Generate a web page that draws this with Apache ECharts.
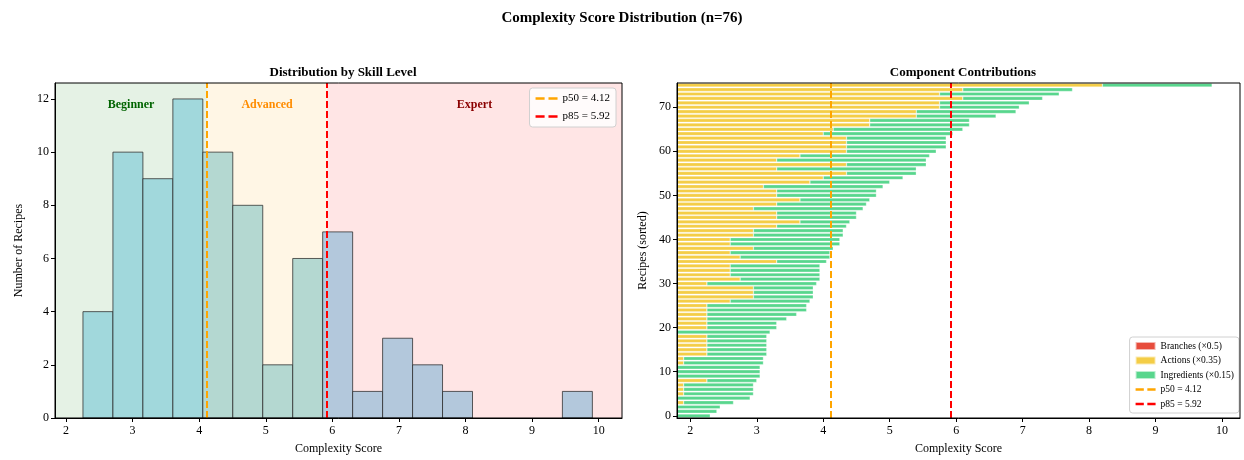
<!DOCTYPE html>
<html><head><meta charset="utf-8">
<script src="https://cdn.jsdelivr.net/npm/echarts@6/dist/echarts.min.js"></script>
<style>html,body{margin:0;padding:0;background:#fff}#c{width:1244px;height:460px}</style>
</head><body><div id="c"></div>
<script>
// ---------- data ----------
const suptitle = 'Complexity Score Distribution (n=76)';
const histTitle = 'Distribution by Skill Level';
const compTitle = 'Component Contributions';
const p50 = 4.12;
const p85 = 5.92;
const zoneNames = ['Beginner', 'Advanced', 'Expert'];
// histogram of complexity scores
const binStart = 2.255;
const binWidth = 0.45;
const histCounts = [4, 10, 9, 12, 10, 8, 2, 6, 7, 1, 3, 2, 1, 0, 0, 0, 1];
// component contributions per recipe (sorted by score, bottom to top)
const branchVals = [0.5,0.5,0.5,0.5,0.5,0.5,0.5,0.5,0.5,0.5,
  0.5,0.5,0.5,0.5,0.5,0.5,0.5,0.5,0.5,0.5,
  0.5,0.5,0.5,0.5,0.5,0.5,0.5,0.5,0.5,0.5,
  0.5,1.0,0.5,0.5,0.5,0.5,1.0,0.5,0.5,0.5,
  0.5,0.5,0.5,0.5,0.5,0.5,0.5,0.5,0.5,0.5,
  0.5,0.5,1.0,1.0,0.5,0.5,0.5,0.5,0.5,0.5,
  0.5,0.5,0.5,0.5,0.5,1.0,0.5,0.5,0.5,0.5,
  0.5,0.5,0.5,0.5,0.5,0.5];
const actionVals = [1.05,1.05,1.05,1.4,1.05,1.4,1.4,1.4,1.75,1.05,
  1.05,1.05,1.4,1.4,1.75,1.75,1.75,1.75,1.75,1.05,
  1.75,1.75,1.75,1.75,1.75,1.75,2.1,2.45,2.45,2.45,
  1.75,1.75,2.1,2.1,2.1,2.8,1.75,2.1,2.45,2.1,
  2.1,2.45,2.45,2.8,3.15,2.8,2.8,2.45,2.8,3.15,
  2.8,2.8,2.1,2.8,3.5,3.85,2.8,3.85,2.8,3.15,
  3.85,3.85,3.85,3.85,3.5,3.15,4.2,4.2,4.9,4.9,
  5.25,5.25,5.6,5.25,5.6,7.7];
const ingredientVals = [0.75,0.85,0.9,0.75,1.35,1.05,1.05,1.05,0.75,1.5,
  1.5,1.5,1.2,1.2,0.9,0.9,0.9,0.9,0.9,1.65,
  1.05,1.05,1.2,1.35,1.5,1.5,1.2,0.9,0.9,0.9,
  1.65,1.2,1.35,1.35,1.35,0.75,1.35,1.5,1.2,1.65,
  1.65,1.35,1.35,1.05,0.75,1.2,1.2,1.65,1.35,1.05,
  1.5,1.5,1.8,1.2,1.2,1.05,2.1,1.2,2.25,1.95,
  1.35,1.5,1.5,1.5,1.95,1.95,1.5,1.5,1.2,1.5,
  1.2,1.35,1.2,1.8,1.65,1.65];
const xTicks = [2, 3, 4, 5, 6, 7, 8, 9, 10];
const histYTicks = [0, 2, 4, 6, 8, 10, 12];
const recipeTickStep = 10;

// ---------- styles ----------
const FONT = "'Liberation Serif', 'DejaVu Serif', serif";
const histX = [1.835, 10.35], histY = [0, 12.6];
const compX = [1.80, 10.27];
const zoneFill = ['rgba(0,128,0,0.1)', 'rgba(255,165,0,0.1)', 'rgba(255,0,0,0.1)'];
const zoneText = ['#006400', '#ff8c00', '#8b0000'];
const barFill = ['#a1d8dc', '#b4d8d1', '#b3c8dc'];
const compColors = ['#e74c3c', '#f4cd46', '#58d68d'];
const dashIcon = 'path://M0,0h7v2h-7zM10,0h7v2h-7z';

const recipeCats = branchVals.map((_, i) => String(i));
const histData = histCounts.map((c, k) => [binStart + k * binWidth, binStart + (k + 1) * binWidth, c]);
const zoneData = [[histX[0], p50, 0], [p50, p85, 1], [p85, histX[1], 2]];

function zoneOf(v) { return v < p50 ? 0 : (v < p85 ? 1 : 2); }

const axisCommon = {
  axisLine: { show: true, lineStyle: { color: '#000', width: 1 } },
  axisTick: { show: true, length: 4, lineStyle: { color: '#000' } },
  axisLabel: { color: '#000', fontFamily: FONT, fontSize: 12 },
  splitLine: { show: false },
  nameTextStyle: { color: '#000', fontFamily: FONT, fontSize: 12 },
  z: 10
};

const chart = echarts.init(document.getElementById('c'), null, { renderer: 'canvas' });
const option = {
  animation: false,
  backgroundColor: '#fff',
  textStyle: { fontFamily: FONT },
  title: [
    { text: suptitle, left: 'center', top: 6, textStyle: { fontFamily: FONT, fontSize: 15, fontWeight: 'bold', color: '#000' } },
    { text: histTitle, left: 338, textAlign: 'center', top: 61, textStyle: { fontFamily: FONT, fontSize: 13, fontWeight: 'bold', color: '#000' } },
    { text: compTitle, left: 958, textAlign: 'center', top: 61, textStyle: { fontFamily: FONT, fontSize: 13, fontWeight: 'bold', color: '#000' } }
  ],
  grid: [
    { left: 55, right: 622, top: 83, bottom: 42, show: true, borderColor: '#000', borderWidth: 1, backgroundColor: 'transparent', z: 10 },
    { left: 677, right: 4, top: 83, bottom: 42, show: true, borderColor: '#000', borderWidth: 1, backgroundColor: 'transparent', z: 10 }
  ],
  xAxis: [
    Object.assign({}, axisCommon, { type: 'value', gridIndex: 0, min: histX[0], max: histX[1],
      name: 'Complexity Score', nameLocation: 'middle', nameGap: 25,
      axisTick: Object.assign({}, axisCommon.axisTick, { customValues: xTicks }),
      axisLabel: Object.assign({}, axisCommon.axisLabel, { customValues: xTicks, margin: 7 }) }),
    Object.assign({}, axisCommon, { type: 'value', gridIndex: 1, min: compX[0], max: compX[1],
      name: 'Complexity Score', nameLocation: 'middle', nameGap: 25,
      axisTick: Object.assign({}, axisCommon.axisTick, { customValues: xTicks }),
      axisLabel: Object.assign({}, axisCommon.axisLabel, { customValues: xTicks, margin: 7 }) })
  ],
  yAxis: [
    Object.assign({}, axisCommon, { type: 'value', gridIndex: 0, min: histY[0], max: histY[1],
      name: 'Number of Recipes', nameLocation: 'middle', nameGap: 30,
      axisTick: Object.assign({}, axisCommon.axisTick, { customValues: histYTicks }),
      axisLabel: Object.assign({}, axisCommon.axisLabel, { customValues: histYTicks, margin: 6 }) }),
    Object.assign({}, axisCommon, { type: 'category', gridIndex: 1, data: recipeCats, boundaryGap: true,
      name: 'Recipes (sorted)', nameLocation: 'middle', nameGap: 28,
      axisTick: Object.assign({}, axisCommon.axisTick, { alignWithLabel: true, interval: (i) => i % recipeTickStep === 0 }),
      axisLabel: Object.assign({}, axisCommon.axisLabel, { interval: (i) => i % recipeTickStep === 0, margin: 6 }) })
  ],
  legend: [
    { data: [{ name: 'p50 = 4.12', icon: dashIcon }, { name: 'p85 = 5.92', icon: dashIcon }],
      orient: 'vertical', right: 628, top: 88,
      itemWidth: 22, itemHeight: 8, itemGap: 7, symbolKeepAspect: true,
      textStyle: { fontFamily: FONT, fontSize: 11, color: '#000' },
      backgroundColor: 'rgba(255,255,255,0.85)', borderColor: '#d0d0d0', borderWidth: 1, borderRadius: 3, padding: [5, 6, 5, 6] },
    { data: [{ name: 'Branches (×0.5)', icon: 'rect' }, { name: 'Actions (×0.35)', icon: 'rect' },
             { name: 'Ingredients (×0.15)', icon: 'rect' },
             { name: 'p50 = 4.12', icon: dashIcon }, { name: 'p85 = 5.92', icon: dashIcon }],
      orient: 'vertical', right: 5, bottom: 47,
      itemWidth: 20, itemHeight: 8, itemGap: 4.5, symbolKeepAspect: true,
      textStyle: { fontFamily: FONT, fontSize: 9.5, color: '#000' },
      backgroundColor: 'rgba(255,255,255,0.85)', borderColor: '#d0d0d0', borderWidth: 1, borderRadius: 3, padding: [4, 5, 4, 5] }
  ],
  series: [
    { type: 'custom', name: 'zones', xAxisIndex: 0, yAxisIndex: 0, z: 0, silent: true,
      data: zoneData, encode: { x: [0, 1] },
      renderItem: function (params, api) {
        const x0 = api.coord([api.value(0), histY[1]]);
        const x1 = api.coord([api.value(1), histY[1]]);
        const cs = params.coordSys;
        const k = api.value(2);
        const yLab = api.coord([0, 11.78])[1];
        return { type: 'group', children: [
          { type: 'rect', shape: { x: x0[0], y: cs.y, width: x1[0] - x0[0], height: cs.height }, style: { fill: zoneFill[k] } },
          { type: 'text', style: { text: zoneNames[k], x: (x0[0] + x1[0]) / 2, y: yLab, align: 'center', verticalAlign: 'middle',
            fill: zoneText[k], font: "bold 12px " + FONT } }
        ] };
      } },
    { type: 'custom', name: 'hist', xAxisIndex: 0, yAxisIndex: 0, z: 2, silent: true,
      data: histData, encode: { x: [0, 1], y: 2 },
      renderItem: function (params, api) {
        const a = api.value(0), b = api.value(1), c = api.value(2);
        if (!c) return null;
        const p0 = api.coord([a, c]);
        const p1 = api.coord([b, 0]);
        return { type: 'rect', shape: { x: p0[0], y: p0[1], width: p1[0] - p0[0], height: p1[1] - p0[1] },
          style: { fill: barFill[zoneOf((a + b) / 2)], stroke: 'rgba(40,40,40,0.75)', lineWidth: 1 } };
      } },
    { type: 'line', name: 'p50 = 4.12', xAxisIndex: 0, yAxisIndex: 0, data: [], symbol: 'none', z: 3,
      itemStyle: { color: '#ffa500' }, lineStyle: { color: '#ffa500', width: 2, type: [7, 3] },
      markLine: { silent: true, symbol: 'none', label: { show: false }, lineStyle: { color: '#ffa500', width: 2, type: [7, 3] }, data: [{ xAxis: p50 }] } },
    { type: 'line', name: 'p85 = 5.92', xAxisIndex: 0, yAxisIndex: 0, data: [], symbol: 'none', z: 3,
      itemStyle: { color: '#ff0000' }, lineStyle: { color: '#ff0000', width: 2, type: [7, 3] },
      markLine: { silent: true, symbol: 'none', label: { show: false }, lineStyle: { color: '#ff0000', width: 2, type: [7, 3] }, data: [{ xAxis: p85 }] } },

    { type: 'bar', name: 'Branches (×0.5)', xAxisIndex: 1, yAxisIndex: 1, stack: 'c', data: branchVals, barWidth: '84%',
      itemStyle: { color: compColors[0], borderColor: 'rgba(255,255,255,0.6)', borderWidth: 0.5 } },
    { type: 'bar', name: 'Actions (×0.35)', xAxisIndex: 1, yAxisIndex: 1, stack: 'c', data: actionVals, barWidth: '84%',
      itemStyle: { color: compColors[1], borderColor: 'rgba(255,255,255,0.6)', borderWidth: 0.5 } },
    { type: 'bar', name: 'Ingredients (×0.15)', xAxisIndex: 1, yAxisIndex: 1, stack: 'c', data: ingredientVals, barWidth: '84%',
      itemStyle: { color: compColors[2], borderColor: 'rgba(255,255,255,0.6)', borderWidth: 0.5 } },
    { type: 'line', name: 'p50 = 4.12', xAxisIndex: 1, yAxisIndex: 1, data: [], symbol: 'none', z: 3,
      itemStyle: { color: '#ffa500' }, lineStyle: { color: '#ffa500', width: 2, type: [7, 3] },
      markLine: { silent: true, symbol: 'none', label: { show: false }, lineStyle: { color: '#ffa500', width: 2, type: [7, 3] }, data: [{ xAxis: p50 }] } },
    { type: 'line', name: 'p85 = 5.92', xAxisIndex: 1, yAxisIndex: 1, data: [], symbol: 'none', z: 3,
      itemStyle: { color: '#ff0000' }, lineStyle: { color: '#ff0000', width: 2, type: [7, 3] },
      markLine: { silent: true, symbol: 'none', label: { show: false }, lineStyle: { color: '#ff0000', width: 2, type: [7, 3] }, data: [{ xAxis: p85 }] } }
  ]
};
chart.setOption(option);
</script>
</body></html>
